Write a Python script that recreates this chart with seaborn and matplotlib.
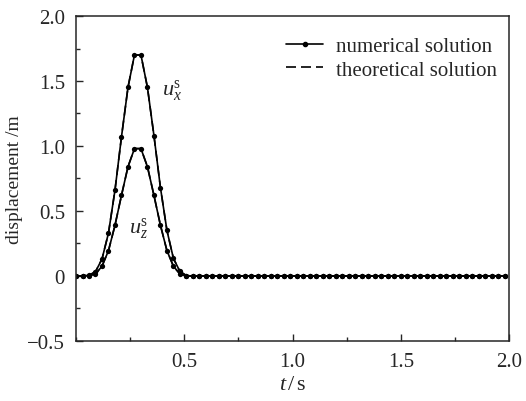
import numpy as np
import pandas as pd
import matplotlib
matplotlib.use("Agg")
import matplotlib.pyplot as plt
import seaborn as sns
from matplotlib.lines import Line2D
from matplotlib.ticker import MultipleLocator

# temps (s) : pas de 0.03 s
t = np.round(np.arange(0, 2.0, 0.03), 2)

# déplacement horizontal u_x (m)
ux_pulse = [0.0, 0.0, 0.005, 0.033, 0.13, 0.33, 0.66, 1.07, 1.45, 1.70,
            1.70, 1.45, 1.08, 0.68, 0.35, 0.135, 0.035, 0.003]
# déplacement vertical u_z (m)
uz_pulse = [0.0, 0.0, 0.003, 0.015, 0.075, 0.195, 0.39, 0.62, 0.84, 0.98,
            0.98, 0.84, 0.62, 0.39, 0.195, 0.075, 0.015, 0.0]

ux = ux_pulse + [0.0] * (len(t) - len(ux_pulse))
uz = uz_pulse + [0.0] * (len(t) - len(uz_pulse))

df = pd.DataFrame({"t": t, "ux": ux, "uz": uz})

sns.set_style("ticks")
plt.rcParams["font.family"] = ["Liberation Serif", "DejaVu Serif"]
plt.rcParams["mathtext.fontset"] = "custom"
plt.rcParams["mathtext.rm"] = "Liberation Serif"
plt.rcParams["mathtext.it"] = "Liberation Serif:italic"

fig = plt.figure(figsize=(5.26, 4.02), dpi=100)
ax = fig.add_axes([0.1445, 0.1493, 0.8232, 0.8084])

# solution théorique (tirets) puis solution numérique (points)
for col in ["ux", "uz"]:
    sns.lineplot(data=df, x="t", y=col, ax=ax, color="black", lw=1.2,
                 linestyle=(0, (6, 3)), label="_nolegend_")
    sns.lineplot(data=df, x="t", y=col, ax=ax, color="black", lw=1.2,
                 marker="o", markersize=3.8, markeredgewidth=0,
                 label="_nolegend_")

ax.set_xlim(0, 2.0)
ax.set_ylim(-0.5, 2.0)
ax.xaxis.set_minor_locator(MultipleLocator(0.25))
ax.yaxis.set_minor_locator(MultipleLocator(0.25))
ax.set_xticks([0.5, 1.0, 1.5, 2.0])
ax.set_xticklabels(["0.5", "1.0", "1.5", "2.0"])
ax.set_yticks([-0.5, 0, 0.5, 1.0, 1.5, 2.0])
ax.set_yticklabels(["\u22120.5", "0", "0.5", "1.0", "1.5", "2.0"])
ax.tick_params(which="both", direction="in", labelsize=15, width=1,
               top=False, right=False)
ax.tick_params(which="major", length=5, pad=8)
ax.tick_params(which="minor", length=3)
for s in ax.spines.values():
    s.set_linewidth(1.1)

ax.set_xlabel("$t\\,/\\,\\mathrm{s}$", fontsize=16, labelpad=3)
ax.set_ylabel("displacement /m", fontsize=14, labelpad=3)

ax.text(0.395, 1.40, "$u_x^{\\mathrm{s}}$", fontsize=16)
ax.text(0.245, 0.34, "$u_z^{\\mathrm{s}}$", fontsize=16)

handles = [Line2D([], [], color="black", lw=1.2, marker="o", markersize=3),
           Line2D([], [], color="black", lw=1.2, linestyle=(0, (6, 3)))]
ax.legend(handles, ["numerical solution", "theoretical solution"],
          loc="upper right", frameon=False, fontsize=15, handlelength=1.8,
          handletextpad=0.6, labelspacing=0.2, bbox_to_anchor=(1.015, 0.995))

fig.savefig("out.png", dpi=100)
